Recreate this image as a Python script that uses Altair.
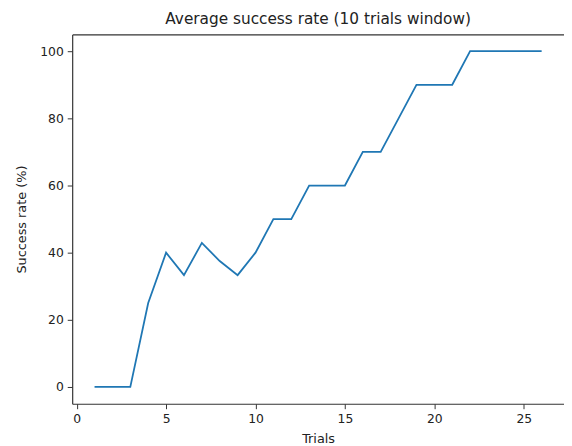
import altair as alt
import pandas as pd

trials = list(range(1, 27))
success = [0, 0, 0, 25, 40, 33.3, 42.9, 37.5, 33.3, 40, 50, 50, 60, 60, 60,
           70, 70, 80, 90, 90, 90, 100, 100, 100, 100, 100]

df = pd.DataFrame({"Trials": trials, "Success": success})

FONT = "DejaVu Sans"
xscale = alt.Scale(domain=[-0.25, 27.25], nice=False, zero=False)
yscale = alt.Scale(domain=[-5, 105], nice=False, zero=False)

line = alt.Chart(df).mark_line(color="#1f77b4", strokeWidth=1.8).encode(
    x=alt.X("Trials:Q", scale=xscale,
            axis=alt.Axis(values=[0, 5, 10, 15, 20, 25], title="Trials", grid=False,
                          labelFlush=False, titlePadding=8)),
    y=alt.Y("Success:Q", scale=yscale,
            axis=alt.Axis(values=[0, 20, 40, 60, 80, 100], title="Success rate (%)", grid=False,
                          labelFlush=False, titlePadding=11)),
)

top = alt.Chart(df).mark_line(opacity=0).encode(
    x=alt.X("Trials:Q", scale=xscale,
            axis=alt.Axis(orient="top", labels=False, ticks=False, title=None, grid=False,
                          domain=True)),
    y=alt.Y("Success:Q", scale=yscale),
)

chart = alt.layer(line, top).resolve_axis(x="independent").properties(
    width=498, height=374,
    title=alt.Title("Average success rate (10 trials window)", fontSize=15.5, font=FONT,
                    fontWeight="normal", color="#222", offset=7),
    autosize=alt.AutoSizeParams(type="none"),
    padding={"left": 65, "top": 24, "right": 0, "bottom": 39},
).configure_view(stroke=None).configure_axis(
    domainColor="#333", domainWidth=1.2, tickColor="#333", tickSize=5, tickWidth=1,
    labelFont=FONT, labelFontSize=12.5, labelColor="#222", labelPadding=4,
    titleFont=FONT, titleFontSize=13, titleFontWeight="normal", titleColor="#222",
)

chart.save("out.html", embed_options={"renderer": "svg", "actions": False})
